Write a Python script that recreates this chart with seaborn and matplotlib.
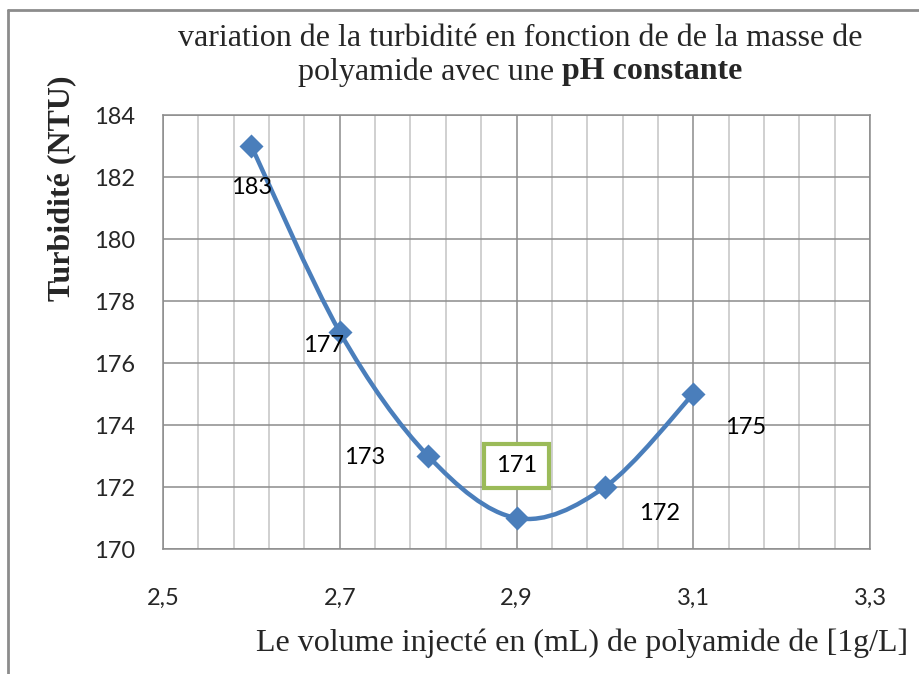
import numpy as np
import pandas as pd
import matplotlib
matplotlib.use("Agg")
import matplotlib.pyplot as plt
import seaborn as sns
from matplotlib.path import Path
from matplotlib.patches import PathPatch
from matplotlib.lines import Line2D
from matplotlib.ticker import FixedLocator, FuncFormatter

# Data
volume = [2.6, 2.7, 2.8, 2.9, 3.0, 3.1]
turbidite = [183, 177, 173, 171, 172, 175]
x_major = [2.5, 2.7, 2.9, 3.1, 3.3]
y_major = [170, 172, 174, 176, 178, 180, 182, 184]
# label offsets (pixels) relative to each point, like the Excel labels
label_offsets = [(0, -41), (-16, -13), (-63, -1), (0, 52), (55, -27), (52, -33)]

BLUE = "#4A7EBB"
GREEN = "#9BBB59"
GRID_MAJOR = "#8C8C8C"
GRID_MINOR = "#C3C3C3"

sns.set_style("white")
plt.rcParams["font.family"] = ["Lato", "DejaVu Sans"]

df = pd.DataFrame({"volume": volume, "turbidite": turbidite})

fig = plt.figure(figsize=(9.2, 6.74), dpi=100)
ax = fig.add_axes([163 / 920, 1 - 549 / 674, 707 / 920, 434 / 674])


def smooth_path(xs, ys):
    """Excel-like smoothed line as cubic Bezier segments."""
    pts = np.column_stack([xs, ys]).astype(float)
    n = len(pts)
    verts = [pts[0]]
    codes = [Path.MOVETO]
    for i in range(n - 1):
        p0 = pts[i - 1] if i > 0 else pts[i]
        p1 = pts[i]
        p2 = pts[i + 1]
        p3 = pts[i + 2] if i + 2 < n else pts[i + 1]
        c1 = p1 + (p2 - p0) / 6.0
        c2 = p2 - (p3 - p1) / 6.0
        verts += [c1, c2, p2]
        codes += [Path.CURVE4] * 3
    return Path(verts, codes)


ax.add_patch(PathPatch(smooth_path(df["volume"], df["turbidite"]),
                       facecolor="none", edgecolor=BLUE, lw=3.2,
                       capstyle="round", zorder=3))
sns.scatterplot(data=df, x="volume", y="turbidite", marker="D", s=150,
                color=BLUE, edgecolor=BLUE, linewidth=0, zorder=4, ax=ax)

for (x, y), (dx, dy) in zip(zip(volume, turbidite), label_offsets):
    kw = {}
    if y == min(turbidite):
        kw["bbox"] = dict(boxstyle="square,pad=0.5", facecolor="white",
                          edgecolor=GREEN, lw=3)
    ax.annotate(str(y), (x, y), xytext=(dx, dy), textcoords="offset pixels",
                ha="center", va="center", fontsize=17, color="black",
                zorder=5, **kw)

ax.set_xlim(2.5, 3.3)
ax.set_ylim(170, 184)
ax.xaxis.set_major_locator(FixedLocator(x_major))
ax.xaxis.set_minor_locator(FixedLocator(np.linspace(2.5, 3.3, 21)))
ax.yaxis.set_major_locator(FixedLocator(y_major))
ax.xaxis.set_major_formatter(FuncFormatter(lambda v, p: f"{v:.1f}".replace(".", ",")))
ax.yaxis.set_major_formatter(FuncFormatter(lambda v, p: f"{v:.0f}"))
ax.grid(which="minor", axis="x", color=GRID_MINOR, lw=1.1)
ax.grid(which="major", axis="both", color=GRID_MAJOR, lw=1.1)
ax.set_axisbelow(True)
for s in ax.spines.values():
    s.set_color(GRID_MAJOR)
    s.set_linewidth(1.1)
ax.tick_params(axis="x", which="major", direction="out", length=8, width=1.1,
               color=GRID_MAJOR, pad=20, labelsize=17)
ax.tick_params(axis="x", which="minor", length=0)
ax.tick_params(axis="y", which="major", direction="out", length=8, width=1.1,
               color=GRID_MAJOR, pad=12, labelsize=17)
ax.set_xlabel("")
ax.set_ylabel("")

# titles and axis labels in serif
serif = ["Liberation Serif", "DejaVu Serif"]
fs = 23
fig.text(520 / 920, 1 - 38 / 674,
         "variation de la turbidité en fonction de de la masse de",
         ha="center", va="center", fontsize=fs, family=serif)
fig.canvas.draw()
renderer = fig.canvas.get_renderer()
t_a = fig.text(0, 1 - 72 / 674, "polyamide avec une ", ha="left", va="center",
               fontsize=fs, family=serif)
t_b = fig.text(0, 1 - 72 / 674, "pH constante", ha="left", va="center",
               fontsize=fs, family=serif, fontweight="bold")
wa = t_a.get_window_extent(renderer).width
wb = t_b.get_window_extent(renderer).width
x0 = 520 - (wa + wb) / 2
t_a.set_x(x0 / 920)
t_b.set_x((x0 + wa) / 920)

fig.text(62 / 920, 1 - 188 / 674, "Turbidité (NTU)", rotation=90,
         ha="center", va="center", fontsize=fs, family=serif,
         fontweight="bold")
fig.text(582 / 920, 1 - 643 / 674,
         "Le volume injecté en (mL) de polyamide de [1g/L]",
         ha="center", va="center", fontsize=fs, family=serif)

# outer frame (top and left edges)
fig.add_artist(Line2D([8 / 920, 8 / 920], [0, 1 - 10 / 674], color="#8C8C8C",
                      lw=2, transform=fig.transFigure))
fig.add_artist(Line2D([8 / 920, 1], [1 - 10 / 674, 1 - 10 / 674],
                      color="#8C8C8C", lw=2, transform=fig.transFigure))

fig.savefig("out.png", dpi=100)
